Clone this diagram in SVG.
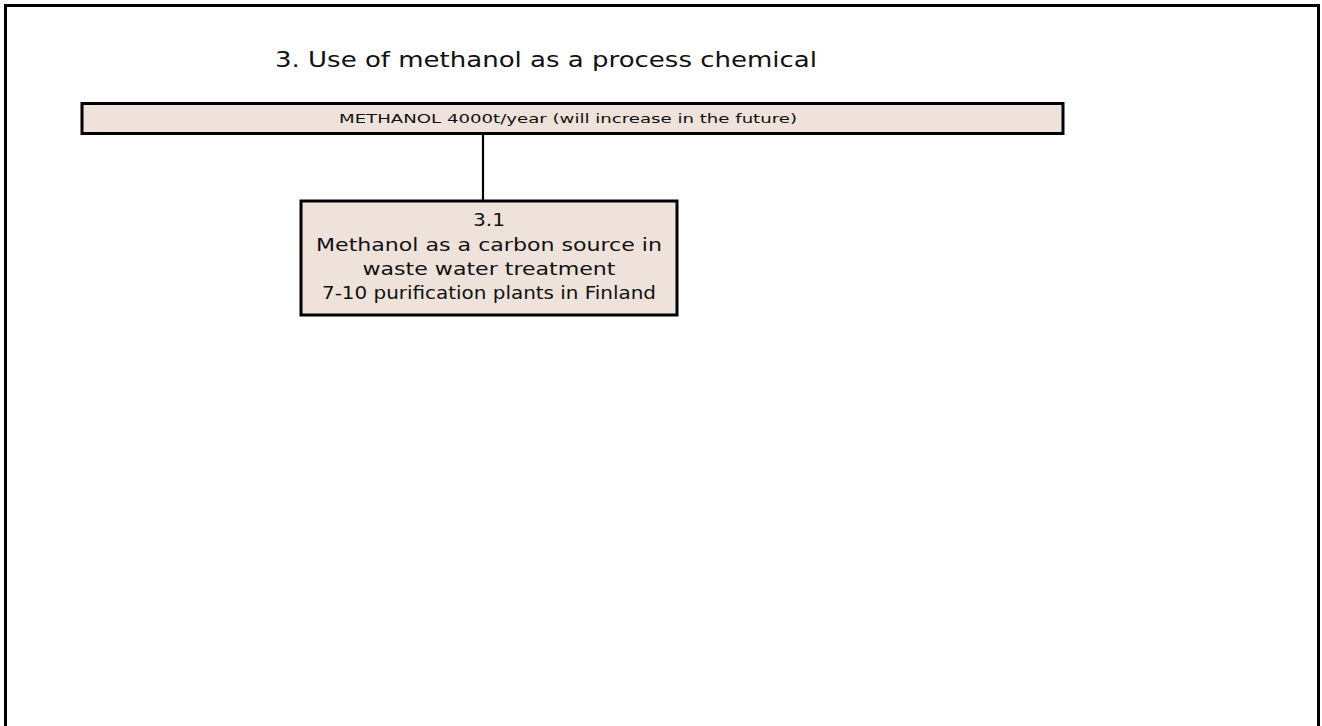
<svg xmlns="http://www.w3.org/2000/svg" width="1322" height="726" viewBox="0 0 1322 726">
<style>
.box{fill:#EEE2DA;stroke:#000;stroke-width:3}
.t{font-family:"DejaVu Sans","Liberation Sans",sans-serif;fill:#111;text-anchor:middle}
</style>
<rect x="0" y="0" width="1322" height="726" fill="#fff"/>
<rect x="5.5" y="5.5" width="1313" height="740" fill="none" stroke="#000" stroke-width="3"/>
<text class="t" x="546" y="67" font-size="22" textLength="542" lengthAdjust="spacingAndGlyphs">3. Use of methanol as a process chemical</text>
<g id="connectors">
<line x1="483" y1="134" x2="483" y2="201" stroke="#000" stroke-width="2.2"/>
</g>
<g id="methanol">
<rect class="box" x="82" y="103.5" width="981" height="30"/>
<text class="t" x="568" y="123" font-size="12.5" textLength="458" lengthAdjust="spacingAndGlyphs">METHANOL  4000t/year (will increase in the future)</text>
</g>
<g id="n31">
<rect class="box" x="301" y="201" width="376" height="114"/>
<text class="t" x="489" y="226" font-size="17.5" textLength="32" lengthAdjust="spacingAndGlyphs">3.1</text>
<text class="t" x="489" y="251" font-size="17.5" textLength="346" lengthAdjust="spacingAndGlyphs">Methanol as a carbon source in</text>
<text class="t" x="489" y="275" font-size="17.5" textLength="253" lengthAdjust="spacingAndGlyphs">waste water treatment</text>
<text class="t" x="489" y="299" font-size="17.5" textLength="334" lengthAdjust="spacingAndGlyphs">7-10 purification plants in Finland</text>
</g>
</svg>
